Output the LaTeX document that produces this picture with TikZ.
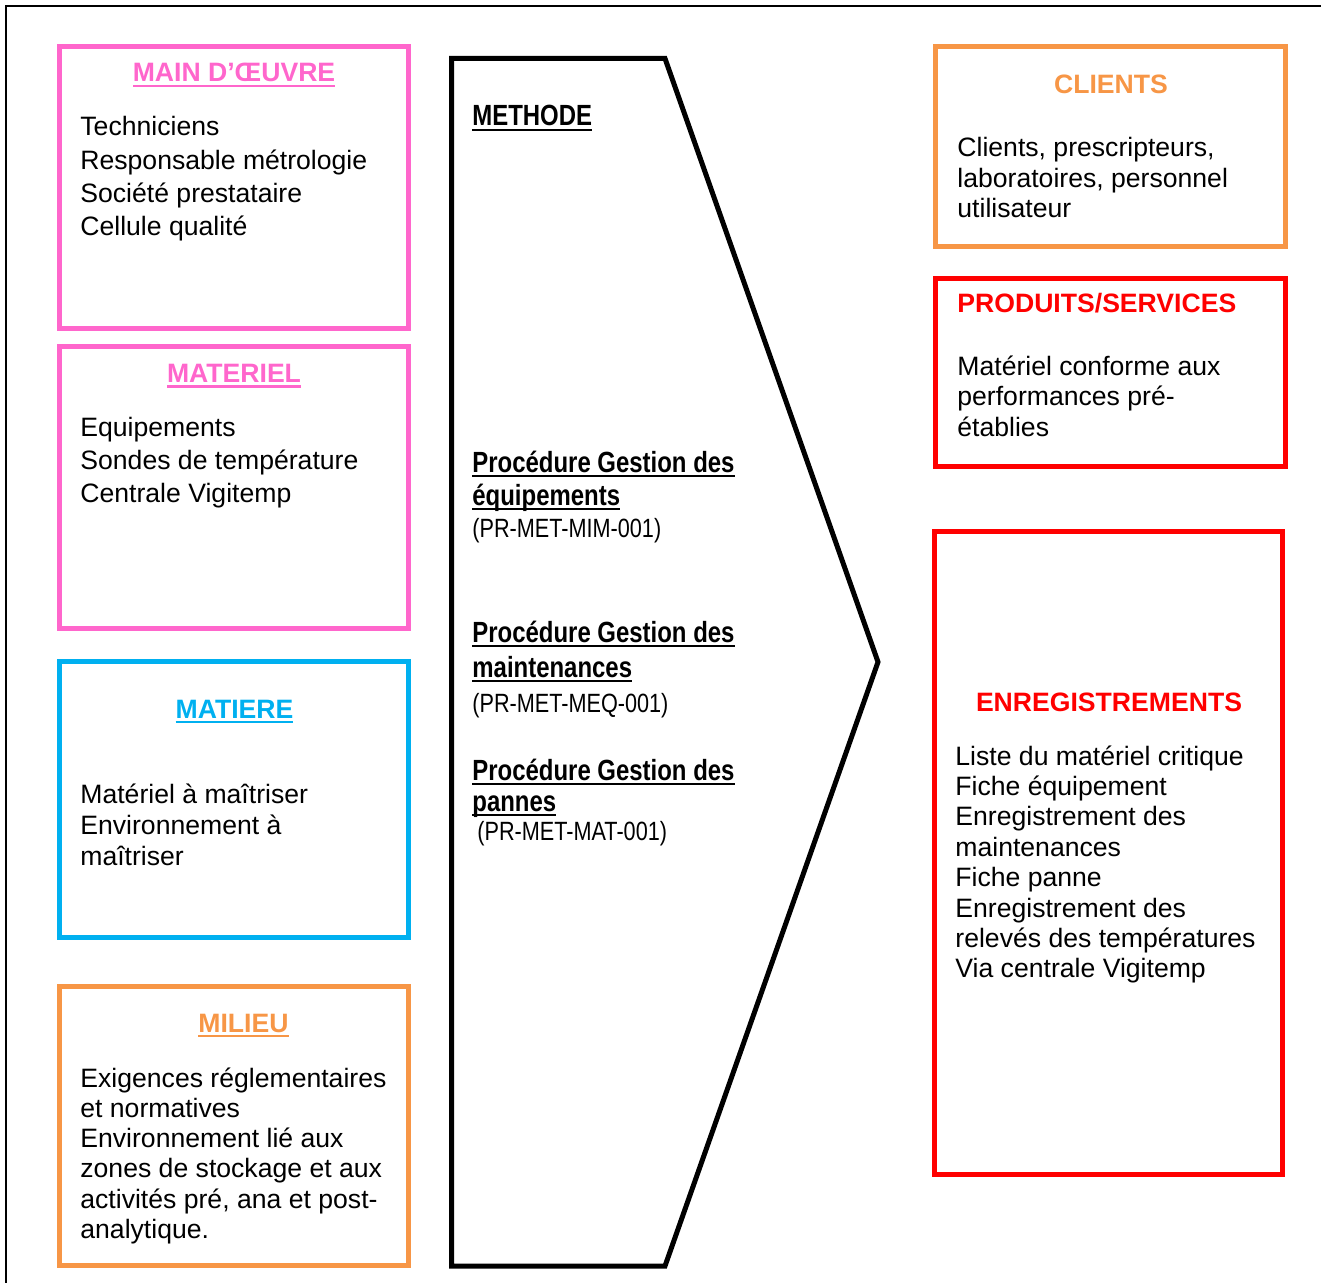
\documentclass[tikz,border=0pt]{standalone}
\usepackage{fontspec}
\setmainfont{Liberation Sans}
\newfontfamily\narrowfont[FakeStretch=0.82]{Liberation Sans}
\usepackage{tikz}
\usetikzlibrary{positioning}

\definecolor{rose}{HTML}{FF66CC}
\definecolor{ciel}{HTML}{00B0F0}
\definecolor{orangeM}{HTML}{F79646}
\definecolor{rouge}{HTML}{FF0000}

\newcommand{\souligne}[1]{\setbox0\hbox{#1}\rlap{\rule[-2.6pt]{\wd0}{1.2pt}}\box0}

\tikzset{
  cadre/.style={draw, line width=2.5pt, inner sep=0pt},
  titre/.style={anchor=base, inner sep=0pt, font=\fontsize{13.3}{16}\selectfont\bfseries},
  ligne/.style={anchor=base west, inner sep=0pt, font=\fontsize{13.3}{16}\selectfont},
  proc/.style={anchor=base west, inner sep=0pt, font=\fontsize{14.6}{17}\selectfont\narrowfont\bfseries},
  code/.style={anchor=base west, inner sep=0pt, font=\fontsize{13.2}{16}\selectfont\narrowfont},
}

\begin{document}
\begin{tikzpicture}[x=0.5pt, y=-0.5pt]
  \useasboundingbox (0,0) rectangle (1321,1283);
  \coordinate (f1) at (6,1283);
  \coordinate (f2) at (6,6.5);
  \coordinate (f3) at (1321,6.5);
  \draw [line width=1pt] (f1) -- (f2) -- (f3);

  \node [cadre, draw=rose, minimum width=174.5pt, minimum height=141pt] (main) at (234,187.5) {};
  \node [titre, text=rose] (mainT) at (234,82) {\souligne{MAIN D’ŒUVRE}};
  \foreach \t [count=\i from 0] in {Techniciens, Responsable métrologie, Société prestataire, Cellule qualité}
    \node [ligne] (main-\i) at (80,{136+33.2*\i}) {\t};

  \node [cadre, draw=rose, minimum width=174.5pt, minimum height=141pt] (materiel) at (234,487.5) {};
  \node [titre, text=rose] (materielT) at (234,382.5) {\souligne{MATERIEL}};
  \foreach \t [count=\i from 0] in {Equipements, Sondes de température, Centrale Vigitemp}
    \node [ligne] (materiel-\i) at (80,{436.5+33*\i}) {\t};

  \node [cadre, draw=ciel, minimum width=174.5pt, minimum height=138pt] (matiere) at (234,799.5) {};
  \node [titre, text=ciel] (matiereT) at (234.5,718) {\souligne{MATIERE}};
  \foreach \t [count=\i from 0] in {Matériel à maîtriser, Environnement à, maîtriser}
    \node [ligne] (matiere-\i) at (80,{803+31*\i}) {\t};

  \node [cadre, draw=orangeM, minimum width=174.5pt, minimum height=139.5pt] (milieu) at (234,1126) {};
  \node [titre, text=orangeM] (milieuT) at (243.5,1032) {\souligne{MILIEU}};
  \foreach \t [count=\i from 0] in {Exigences réglementaires, et normatives, Environnement lié aux, zones de stockage et aux, {activités pré, ana et post-}, analytique.}
    \node [ligne] (milieu-\i) at (80,{1087+30.3*\i}) {\t};

  \coordinate (m1) at (451.5,58.5);
  \coordinate (m2) at (665,58.5);
  \coordinate (m3) at (878,662);
  \coordinate (m4) at (665,1266);
  \coordinate (m5) at (451.5,1266);
  \draw [line width=2.5pt] (m1) -- (m2) -- (m3) -- (m4) -- (m5) -- cycle;
  \node [proc] (methode) at (472,126) {\souligne{METHODE}};
  \node [proc] (equipA) at (472,472) {\souligne{Procédure Gestion des}};
  \node [proc] (equipB) at (472,505) {\souligne{équipements}};
  \node [code] (equipC) at (472,537) {(PR-MET-MIM-001)};
  \node [proc] (maintA) at (472,642) {\souligne{Procédure Gestion des}};
  \node [proc] (maintB) at (472,677) {\souligne{maintenances}};
  \node [code] (maintC) at (472,712) {(PR-MET-MEQ-001)};
  \node [proc] (panneA) at (472,780) {\souligne{Procédure Gestion des}};
  \node [proc] (panneB) at (472,811) {\souligne{pannes}};
  \node [code] (panneC) at (477,840) {(PR-MET-MAT-001)};

  \node [cadre, draw=orangeM, minimum width=175pt, minimum height=100pt] (clients) at (1110.5,146.5) {};
  \node [titre, text=orangeM] (clientsT) at (1111,94) {CLIENTS};
  \foreach \t [count=\i from 0] in {{Clients, prescripteurs,}, {laboratoires, personnel}, utilisateur}
    \node [ligne] (clients-\i) at (957,{157+30.5*\i}) {\t};

  \node [cadre, draw=rouge, minimum width=175pt, minimum height=94pt] (produits) at (1110.5,372.5) {};
  \node [titre, anchor=base west, text=rouge] (produitsT) at (957,313) {PRODUITS/SERVICES};
  \foreach \t [count=\i from 0] in {Matériel conforme aux, performances pré-, établies}
    \node [ligne] (produits-\i) at (957,{375+30.5*\i}) {\t};

  \node [cadre, draw=rouge, minimum width=174pt, minimum height=321.5pt] (enreg) at (1108.5,853) {};
  \node [titre, text=rouge] (enregT) at (1109,711) {ENREGISTREMENTS};
  \foreach \t [count=\i from 0] in {Liste du matériel critique, Fiche équipement, Enregistrement des, maintenances, Fiche panne, Enregistrement des, relevés des températures, Via centrale Vigitemp}
    \node [ligne] (enreg-\i) at (955,{765+30.4*\i}) {\t};
\end{tikzpicture}
\end{document}
